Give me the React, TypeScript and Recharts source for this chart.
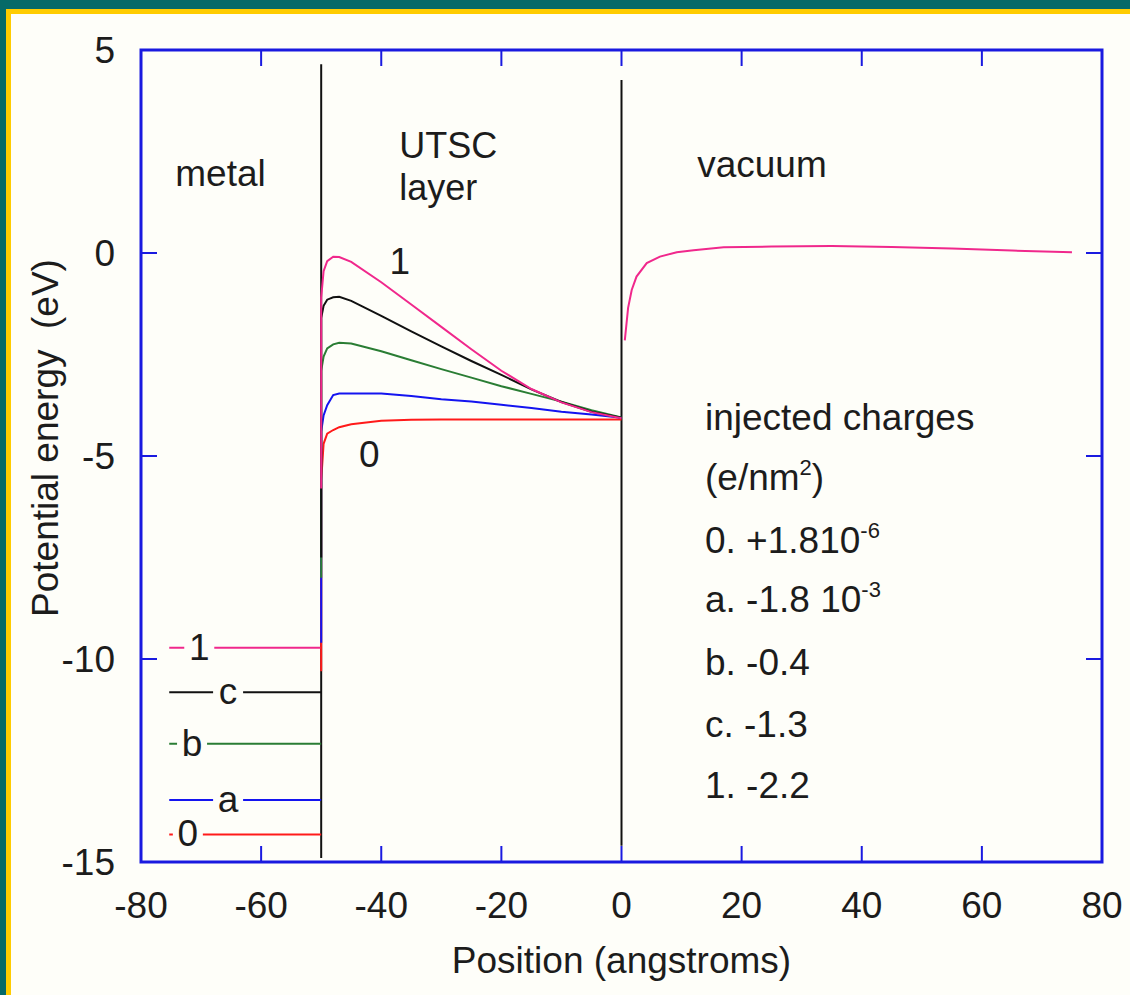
import React from 'react';
import { LineChart, Line, XAxis, YAxis, ReferenceArea, ReferenceDot } from 'recharts';

const FONT = '"Liberation Sans", Arial, Helvetica, sans-serif';
const INK = '#1c1c1c';
const FRAME = '#1a1ae0';
const PAPER = '#fefef9';
const TEAL = '#066a68';
const GOLD = '#ffcc00';
const FS = 37;

const xTicks = [-80, -60, -40, -20, 0, 20, 40, 60, 80];
const yTicks = [-15, -10, -5, 0, 5];

// injected-charge cases, drawn bottom to top
const caseKeys = ['0', 'a', 'b', 'c', '1'];
const caseColors = ['#ff1a1a', '#1414f0', '#2a7d34', '#111111', '#f0288c'];

// Fermi levels in the metal (eV)
const metalLevelX = [-75.3, -50];
const metalLevels = [-14.32, -13.47, -12.09, -10.82, -9.72];
const metalTagX = [-72.2, -65.5, -71.5, -65.5, -70.3];

// potential across the UTSC layer (eV)
const layerX = [-50, -50, -49.6, -49, -48, -47, -45, -40, -35, -30, -25, -20, -15, -10, -5, 0];
const layer0 = [-10.3, -5.6, -4.7, -4.45, -4.36, -4.29, -4.22, -4.13, -4.11, -4.1, -4.1, -4.1, -4.1, -4.1, -4.1, -4.1];
const layerA = [-9.6, -4.4, -4.0, -3.75, -3.5, -3.46, -3.46, -3.46, -3.52, -3.6, -3.66, -3.74, -3.82, -3.91, -3.98, -4.06];
const layerB = [-8.0, -2.9, -2.55, -2.35, -2.25, -2.21, -2.23, -2.42, -2.64, -2.86, -3.07, -3.28, -3.47, -3.66, -3.87, -4.05];
const layerC = [-7.5, -1.6, -1.3, -1.15, -1.09, -1.08, -1.18, -1.55, -1.93, -2.3, -2.66, -3.0, -3.36, -3.67, -3.91, -4.06];
const layer1 = [-5.8, -1.1, -0.45, -0.2, -0.09, -0.1, -0.22, -0.72, -1.27, -1.82, -2.37, -2.9, -3.35, -3.68, -3.92, -4.07];
const layerCurves = [layer0, layerA, layerB, layerC, layer1];

// image-potential tail on the vacuum side
const vacuumX = [0.55, 1.1, 1.7, 2.5, 4.2, 6.4, 9.2, 12, 17, 25, 35, 45, 55, 65, 75];
const vacuum1 = [-2.15, -1.35, -0.91, -0.58, -0.25, -0.09, 0.02, 0.07, 0.14, 0.16, 0.17, 0.15, 0.11, 0.06, 0.02];

// metal/layer and layer/vacuum interfaces
const interfaceX = [-50, 0];
const interfaceLow = [-14.9, -14.6];
const interfaceHigh = [4.65, 4.26];

// region names
const regionText = ['metal', 'UTSC', 'layer', 'vacuum'];
const regionX = [-74.3, -37.0, -37.0, 12.6];
const regionY = [1.65, 2.33, 1.3, 1.87];

// curve tags inside the layer
const curveTagText = ['1', '0'];
const curveTagX = [-36.9, -42.0];
const curveTagY = [-0.52, -5.27];

// injected charge table
const chargeText = ['injected charges', '(e/nm', '0. +1.810', 'a. -1.8 10', 'b. -0.4', 'c. -1.3', '1. -2.2'];
const chargeSup = ['', '2', '-6', '-3', '', '', ''];
const chargeTail = ['', ')', '', '', '', '', ''];
const chargeX = 13.9;
const chargeY = [-4.36, -5.84, -7.39, -8.84, -10.39, -11.92, -13.42];

const toPoints = (xs: number[], ys: number[]) => xs.map((x, i) => ({ x, y: ys[i] }));

const center = (vb: any) => ({
  cx: (vb?.x ?? 0) + (vb?.width ?? 0) / 2,
  cy: (vb?.y ?? 0) + (vb?.height ?? 0) / 2,
});

const BottomTick = (p: any) => {
  const { x, y, payload } = p;
  return (
    <g>
      <line x1={x} x2={x} y1={y} y2={y - 16} stroke={FRAME} strokeWidth={2} />
      <text x={x} y={y + 56} textAnchor="middle" fontFamily={FONT} fontSize={FS} fill={INK}>
        {payload.value}
      </text>
    </g>
  );
};

const TopTick = (p: any) => {
  const { x, y } = p;
  return <line x1={x} x2={x} y1={y} y2={y + 16} stroke={FRAME} strokeWidth={2} />;
};

const LeftTick = (p: any) => {
  const { x, y, payload } = p;
  return (
    <g>
      <line x1={x} x2={x + 16} y1={y} y2={y} stroke={FRAME} strokeWidth={2} />
      <text x={x - 26} y={y + 13} textAnchor="end" fontFamily={FONT} fontSize={FS} fill={INK}>
        {payload.value}
      </text>
    </g>
  );
};

const RightTick = (p: any) => {
  const { x, y } = p;
  return <line x1={x} x2={x - 16} y1={y} y2={y} stroke={FRAME} strokeWidth={2} />;
};

const plainText = (text: string, anchor: 'start' | 'middle', size = FS) => (props: any) => {
  const { cx, cy } = center(props.viewBox);
  return (
    <text x={cx} y={cy} textAnchor={anchor} fontFamily={FONT} fontSize={size} fill={INK}>
      {text}
    </text>
  );
};

const chargeLine = (i: number) => (props: any) => {
  const { cx, cy } = center(props.viewBox);
  return (
    <text x={cx} y={cy} textAnchor="start" fontFamily={FONT} fontSize={FS} fill={INK}>
      {chargeText[i]}
      {chargeSup[i] ? (
        <tspan dy={-15} fontSize={22}>
          {chargeSup[i]}
        </tspan>
      ) : null}
      {chargeTail[i] ? <tspan dy={15}>{chargeTail[i]}</tspan> : null}
    </text>
  );
};

const metalTag = (text: string) => (props: any) => {
  const { cx, cy } = center(props.viewBox);
  return (
    <g>
      <rect x={cx - 15} y={cy - 5} width={30} height={10} fill={PAPER} />
      <text x={cx} y={cy + 12} textAnchor="middle" fontFamily={FONT} fontSize={FS} fill={INK}>
        {text}
      </text>
    </g>
  );
};

const xTitle = (props: any) => {
  const vb = props.viewBox || {};
  return (
    <text
      x={vb.x + vb.width / 2}
      y={vb.y + 111}
      textAnchor="middle"
      fontFamily={FONT}
      fontSize={FS}
      fill={INK}
    >
      Position (angstroms)
    </text>
  );
};

const yTitle = (props: any) => {
  const vb = props.viewBox || {};
  const cx = vb.x + 45;
  const cy = vb.y + vb.height / 2 - 18;
  return (
    <text
      x={cx}
      y={cy}
      transform={`rotate(-90 ${cx} ${cy})`}
      textAnchor="middle"
      dominantBaseline="central"
      fontFamily={FONT}
      fontSize={FS}
      fill={INK}
      style={{ whiteSpace: 'pre' }}
    >
      {'Potential energy  (eV)'}
    </text>
  );
};

export default function App() {
  return (
    <div style={{ position: 'absolute', left: 0, top: 0, width: 1130, height: 995, background: TEAL, overflow: 'hidden' }}>
      <div style={{ position: 'absolute', left: 6, top: 9, right: 0, bottom: 0, background: GOLD }} />
      <div style={{ position: 'absolute', left: 11, top: 14, right: 0, bottom: 0, background: PAPER }} />
      <div style={{ position: 'absolute', left: 0, top: 0 }}>
        <LineChart width={1130} height={995} margin={{ top: 0, right: 0, bottom: 0, left: 0 }}>
          <XAxis
            type="number"
            dataKey="x"
            domain={[-80, 80]}
            ticks={xTicks}
            allowDataOverflow
            axisLine={false}
            tickLine={false}
            tickSize={0}
            tickMargin={0}
            height={133}
            interval={0}
            tick={<BottomTick />}
            label={xTitle}
          />
          <XAxis
            xAxisId="top"
            orientation="top"
            type="number"
            dataKey="x"
            domain={[-80, 80]}
            ticks={xTicks}
            allowDataOverflow
            axisLine={false}
            tickLine={false}
            tickSize={0}
            tickMargin={0}
            height={50}
            interval={0}
            tick={<TopTick />}
          />
          <YAxis
            type="number"
            domain={[-15, 5]}
            ticks={yTicks}
            allowDataOverflow
            axisLine={false}
            tickLine={false}
            tickSize={0}
            tickMargin={0}
            width={141}
            interval={0}
            tick={<LeftTick />}
            label={yTitle}
          />
          <YAxis
            yAxisId="right"
            orientation="right"
            type="number"
            domain={[-15, 5]}
            ticks={yTicks}
            allowDataOverflow
            axisLine={false}
            tickLine={false}
            tickSize={0}
            tickMargin={0}
            width={28}
            interval={0}
            tick={<RightTick />}
          />

          {interfaceX.map((x, i) => (
            <Line
              key={`iface-${i}`}
              data={[
                { x, y: interfaceLow[i] },
                { x, y: interfaceHigh[i] },
              ]}
              dataKey="y"
              stroke="#111111"
              strokeWidth={2}
              dot={false}
              activeDot={false}
              isAnimationActive={false}
            />
          ))}

          {caseKeys.map((k, i) => (
            <Line
              key={`metal-${k}`}
              data={toPoints(metalLevelX, [metalLevels[i], metalLevels[i]])}
              dataKey="y"
              stroke={caseColors[i]}
              strokeWidth={2}
              dot={false}
              activeDot={false}
              isAnimationActive={false}
            />
          ))}

          {caseKeys.map((k, i) => (
            <Line
              key={`layer-${k}`}
              data={toPoints(layerX, layerCurves[i])}
              dataKey="y"
              stroke={caseColors[i]}
              strokeWidth={2}
              dot={false}
              activeDot={false}
              isAnimationActive={false}
            />
          ))}

          <Line
            data={toPoints(vacuumX, vacuum1)}
            dataKey="y"
            stroke={caseColors[4]}
            strokeWidth={2}
            dot={false}
            activeDot={false}
            isAnimationActive={false}
          />

          {caseKeys.map((k, i) => (
            <ReferenceDot
              key={`mtag-${k}`}
              x={metalTagX[i]}
              y={metalLevels[i]}
              r={0}
              fill="none"
              stroke="none"
              label={metalTag(k)}
            />
          ))}

          {regionText.map((t, i) => (
            <ReferenceDot key={`reg-${i}`} x={regionX[i]} y={regionY[i]} r={0} fill="none" stroke="none" label={plainText(t, 'start', i === 1 || i === 2 ? 36 : FS)} />
          ))}

          {curveTagText.map((t, i) => (
            <ReferenceDot key={`ctag-${i}`} x={curveTagX[i]} y={curveTagY[i]} r={0} fill="none" stroke="none" label={plainText(t, 'middle')} />
          ))}

          {chargeText.map((t, i) => (
            <ReferenceDot key={`chg-${i}`} x={chargeX} y={chargeY[i]} r={0} fill="none" stroke="none" label={chargeLine(i)} />
          ))}

          <ReferenceArea x1={-80} x2={80} y1={-15} y2={5} fill="none" stroke={FRAME} strokeWidth={3} ifOverflow="visible" />
        </LineChart>
      </div>
    </div>
  );
}
